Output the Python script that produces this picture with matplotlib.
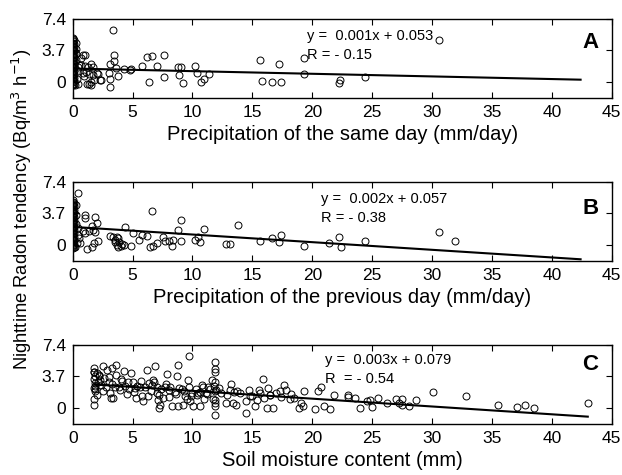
import matplotlib
matplotlib.use("Agg")
import matplotlib.pyplot as plt

plt.rcParams['font.family'] = ['Liberation Sans', 'DejaVu Sans']

# panel A: precipitation of the same day
a_x = [0, 0, 0, 0, 0, 0, 0, 0, 0, 0, 0, 0, 0, 0, 0, 0, 0, 0, 0, 0, 0, 0, 0, 0, 0, 0, 0, 0, 0,
       0.1, 0.1, 0.1, 0.1, 0.1, 0.1, 0.1, 0.1, 0.1, 0.1, 0.1, 0.1, 0.1, 0.1,
       0.3, 0.25, 0.3, 0.4, 0.35, 0.5, 0.45, 0.2, 0.3, 0.4,
       0.86, 0.67, 0.86, 0.94, 1.27, 1.7, 1.55, 1.4, 1.8, 2.1, 2.4, 1.7, 1.1, 1.0, 0.7, 1.5, 1.0,
       3.39, 3.45, 3.45, 3.1, 3.6, 3.75, 3.0, 3.1, 3.1, 2.3, 2.0, 1.4, 1.2, 1.55,
       4.3, 4.8, 4.9, 5.8, 6.2, 6.6, 6.4, 7.0, 7.6, 7.6, 8.8, 9.0, 8.9, 9.2,
       10.2, 10.4, 10.7, 11.0, 11.4, 15.6, 15.8, 16.6, 17.4, 17.2, 19.3, 19.3,
       22.3, 22.2, 24.4, 30.6]
a_y = [-0.4, -0.2, 0, 0.2, 0.4, 0.6, 0.8, 1.0, 1.2, 1.4, 1.6, 1.8, 2.0, 2.2, 2.4, 2.6, 2.8,
       3.0, 3.2, 3.4, 3.6, 3.8, 4.0, 4.2, 4.4, 4.6, 4.8, 5.0, 5.2,
       -0.3, 0.1, 0.5, 0.9, 1.3, 1.7, 2.1, 2.5, 2.9, 3.3, 3.7, 4.1, 4.5, 4.9,
       4.6, 3.9, 2.6, 1.3, 0.3, 2.0, -0.2, -0.4, 3.3, 1.8,
       3.22, 2.03, 1.04, 0.64, 1.8, 1.8, -0.36, -0.2, 0.2, 0.92, 0.2, 0.8, 1.2, 3.22, 2.8, 2.11, 1.9,
       6.13, 3.14, 2.43, 2.11, 1.63, 0.72, 1.04, 0.36, -0.56, 0.24, 1.04, 0.9, -0.24, 0.04,
       1.51, 1.43, 1.5, 1.83, 2.95, 3.1, 0.04, 1.9, 3.19, 0.52, 1.7, 1.7, 0.8, -0.16,
       1.9, 1.1, -0.04, 0.32, 0.88, 2.63, 0.12, -0.04, -0.04, 2.15, 2.75, 0.96,
       0.24, -0.16, 0.52, 4.9]

# panel B: precipitation of the previous day
b_x = [0, 0, 0, 0, 0, 0, 0, 0, 0, 0, 0, 0, 0, 0, 0, 0, 0, 0, 0, 0, 0, 0, 0, 0, 0, 0, 0, 0, 0,
       0.1, 0.1, 0.1, 0.1, 0.1, 0.1, 0.1, 0.1, 0.1, 0.1, 0.1, 0.1, 0.1, 0.1,
       0.3, 0.25, 0.3, 0.4, 0.35, 0.2, 0.4,
       0.4, 6.6, 9.0, 8.8, 11.0, 13.8, 4.4, 5.05, 5.8, 6.2, 5.5, 4.9, 6.45, 6.7, 7.0, 7.55,
       7.7, 8.0, 8.25, 8.4, 9.0, 10.2, 10.5, 10.6, 12.8, 13.1, 15.6, 16.6, 17.2, 17.4, 19.3,
       3.1, 3.4, 3.55, 3.7, 3.8, 3.5, 3.7, 3.8, 4.0, 4.1, 4.3, 3.9,
       1.2, 1.6, 1.8, 2.1, 1.0, 1.0, 1.85, 2.0, 1.6, 1.7, 1.9, 0.85, 1.0, 1.4, 0.6, 0.5,
       21.4, 22.2, 22.4, 24.4, 30.6, 31.9]
b_y = [-0.4, -0.2, 0, 0.2, 0.4, 0.6, 0.8, 1.0, 1.2, 1.4, 1.6, 1.8, 2.0, 2.2, 2.4, 2.6, 2.8,
       3.0, 3.2, 3.4, 3.6, 3.8, 4.0, 4.2, 4.4, 4.6, 4.8, 5.0, 5.2,
       -0.3, 0.1, 0.5, 0.9, 1.3, 1.7, 2.1, 2.5, 2.9, 3.3, 3.7, 4.1, 4.5, 4.9,
       4.7, 3.5, 2.4, 1.1, 0.2, -0.3, 1.9,
       6.1, 4.0, 2.87, 1.67, 1.87, 2.35, 2.08, 1.36, 1.07, 1.05, 0.56, -0.12, -0.24, -0.12, 0.24, 0.88,
       0.44, 0.44, -0.16, 0.56, 0.44, 0.56, 0.88, 0.28, 0.08, 0.08, 0.44, 0.80, 0.32, 1.16, -0.12,
       0.96, 0.88, 0.56, 0.88, 0.72, 0.32, -0.08, -0.24, -0.12, 0.08, 0.0, 0.28,
       -0.51, -0.32, 0.24, 0.44, 3.46, 3.14, 3.26, 2.55, 2.23, 1.75, 1.43, 1.59, 1.3, 1.6, 0.2, 0.8,
       0.16, 0.88, -0.24, 0.36, 1.43, 0.36]

# panel C: soil moisture content
c_x = [1.8, 1.8, 1.8, 1.86, 1.86, 1.86, 2.0, 2.3, 2.55, 2.9, 3.25, 3.6, 3.2, 3.1, 3.5, 3.95,
       4.3, 4.6, 4.9, 5.2, 5.3, 5.6, 5.9, 6.2, 6.3, 6.6, 6.9, 7.0, 7.1, 7.2, 7.3, 7.55, 7.7,
       7.9, 8.05, 8.3, 8.7, 8.8, 8.8, 9.2, 9.4, 9.6, 9.7, 9.8, 10.05, 10.5, 10.6, 10.8, 11.0,
       11.3, 11.6, 11.85, 11.85, 11.85, 11.85, 11.85, 11.85, 11.85, 11.9, 12.0, 12.2, 12.8,
       13.1, 13.2, 13.4, 13.6, 13.7, 14.5, 14.5, 14.7, 15.0, 15.2, 15.4, 15.55, 15.9, 16.0,
       16.2, 16.3, 16.5, 16.7, 17.0, 17.3, 17.6, 17.8, 18.1, 18.5, 18.9, 19.1, 19.2, 19.3,
       20.2, 20.5, 20.7, 21.0, 21.5, 21.8, 23.0, 23.0, 23.6, 24.0, 24.6, 24.8, 25.0, 25.5,
       26.2, 27.0, 27.2, 27.5, 27.5, 28.1, 28.7, 30.05, 32.8, 35.5, 37.1, 37.8, 38.5, 43.0,
       1.8, 1.9, 1.75, 1.9, 2.1, 2.2, 2.4, 2.6, 2.8, 3.0, 3.3, 3.6, 3.9, 4.1, 4.4, 4.7, 5.0,
       5.4, 5.7, 6.0, 6.4, 6.7, 7.0, 7.4, 7.8, 8.1, 8.5, 8.9, 9.3, 9.7, 10.0, 10.3, 10.6,
       10.9, 11.2, 11.5, 11.8, 12.4, 12.9, 13.5, 14.0, 14.8, 15.6, 16.5, 17.4, 18.2,
       2.0, 2.5, 3.0, 3.4, 4.0, 4.5, 5.1, 5.8, 6.5, 7.2, 8.0, 8.6, 9.1, 9.9, 10.4, 11.1, 11.7,
       1.8, 2.2, 1.8, 6.8, 9.5, 11.9]
c_y = [4.66, 0.36, 1.0, 1.95, 2.95, 3.7, 4.1, 3.3, 4.93, 4.5, 4.7, 5.1, 1.16, 1.8, 2.5, 2.1,
       4.3, 3.1, 4.1, 2.3, 1.16, 2.5, 0.76, 4.5, 1.36, 2.7, 4.9, 1.8, 0.96, -0.04, 0.36, 1.16, 2.5,
       4.0, 2.1, 0.2, 3.7, 5.0, 0.2, 0.36, 1.36, 3.3, 6.1, 0.76, 0.2, 1.75, 0.2, 2.7, 1.0,
       2.5, 3.3, 5.4, 4.2, 3.1, 1.95, 0.96, 0.2, -0.8, 0.6, 2.1, 2.3, 0.52,
       2.1, 2.8, 0.6, 0.28, 2.0, -0.56, 0.76, 2.1, 1.36, 0.2, 0.96, 2.1, 3.4, 1.16,
       -0.04, 2.3, 1.55, -0.04, 1.75, 2.0, 2.7, 2.1, 1.0, 1.16, -0.04, 0.6, 0.2, 1.95,
       -0.16, 2.0, 2.4, 0.2, -0.16, 1.55, 1.28, 1.55, 1.16, -0.04, 0.76, 0.88, 0.12, 1.16,
       0.6, 1.08, 0.6, 1.0, 0.28, 0.2, 0.88, 1.83, 1.36, 0.36, 0.12, 0.36, -0.04, 0.52,
       3.4, 2.6, 4.2, 2.2, 3.0, 3.8, 2.7, 3.5, 2.4, 3.1, 2.8, 3.9, 2.4, 3.2, 2.6, 2.2, 3.0,
       2.6, 3.2, 2.4, 2.9, 3.3, 2.5, 2.2, 2.8, 2.4, 1.9, 2.3, 2.0, 2.5, 1.8, 2.2, 1.9,
       2.4, 1.6, 2.2, 2.6, 1.8, 1.5, 1.9, 1.7, 1.4, 1.8, 1.5, 1.3, 1.6,
       1.5, 2.0, 3.6, 1.2, 3.4, 1.6, 1.9, 1.4, 2.0, 1.5, 1.3, 1.6, 2.2, 1.4, 1.5, 1.7, 1.1,
       4.2, 3.9, 2.3, 3.0, 1.0, 4.6]

# regression lines (slope, intercept, x range)
fits = [(-0.031, 1.57, 0.0, 42.4), (-0.090, 2.08, 0.0, 42.4), (-0.092, 2.92, 1.8, 43.0)]
eq_text = ["y =  0.001x + 0.053\nR = - 0.15",
           "y =  0.002x + 0.057\nR = - 0.38",
           "y =  0.003x + 0.079\nR  = - 0.54"]
eq_pos = [(19.6, 4.3), (20.75, 4.2), (21.1, 4.55)]
letters = ["A", "B", "C"]
letter_y = [4.66, 4.23, 5.1]
xlabels = ["Precipitation of the same day (mm/day)",
           "Precipitation of the previous day (mm/day)",
           "Soil moisture content (mm)"]
xs = [a_x, b_x, c_x]
ys = [a_y, b_y, c_y]

fig = plt.figure(figsize=(6.22, 4.75), dpi=100)
tops = [0.96, 0.6175, 0.2737]
for i in range(3):
    ax = fig.add_axes([0.1169, tops[i] - 0.1663, 0.8666, 0.1663])
    ax.plot(xs[i], ys[i], 'o', mfc='none', mec='k', ms=5, mew=0.7)
    s, b, x0, x1 = fits[i]
    ax.plot([x0, x1], [s * x0 + b, s * x1 + b], color='k', lw=1.5)
    ax.set_xlim(0, 45)
    ax.set_ylim(-1.9, 7.4)
    ax.set_xticks(range(0, 46, 5))
    ax.set_yticks([0, 3.7, 7.4])
    ax.set_yticklabels(["0", "3.7", "7.4"])
    ax.tick_params(direction='in', top=True, right=True, labelsize=12.5, length=4, width=0.8, pad=5)
    ax.set_xlabel(xlabels[i], fontsize=14.5, labelpad=4)
    ax.text(eq_pos[i][0], eq_pos[i][1], eq_text[i], fontsize=10.5, va='center', linespacing=1.45)
    ax.text(43.9, letter_y[i], letters[i], fontsize=16, fontweight='bold', ha='right', va='center')
    for sp in ax.spines.values():
        sp.set_linewidth(1.0)

fig.text(0.035, 0.56, "Nighttime Radon tendency (Bq/m$^3$ h$^{-1}$)", rotation=90,
         fontsize=13.2, ha='center', va='center')

plt.savefig("out.png", dpi=100)
